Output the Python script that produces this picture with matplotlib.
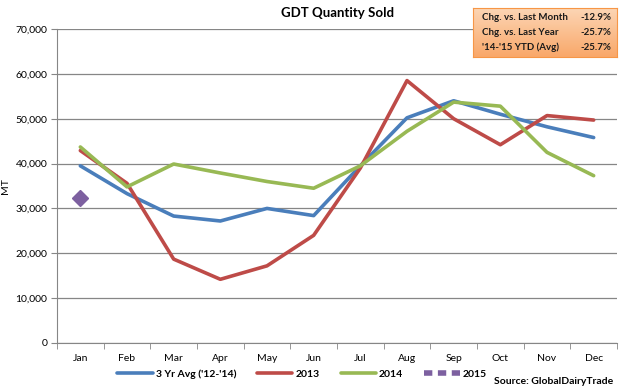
import matplotlib
matplotlib.use("Agg")
import matplotlib.pyplot as plt
from matplotlib.lines import Line2D
from matplotlib.colors import LinearSegmentedColormap
import numpy as np

plt.rcParams['font.family'] = ['Lato', 'DejaVu Sans']

months = ['Jan', 'Feb', 'Mar', 'Apr', 'May', 'Jun', 'Jul', 'Aug', 'Sep', 'Oct', 'Nov', 'Dec']
avg_3yr = [39500, 33300, 28300, 27200, 30000, 28400, 39500, 50200, 54000, 51000, 48200, 45800]
y2013 = [42900, 35600, 18700, 14200, 17200, 24000, 39000, 58500, 50000, 44200, 50700, 49700]
y2014 = [43700, 34800, 39900, 37900, 36000, 34500, 39500, 47200, 53700, 52800, 42500, 37300]
y2015 = [32300]
yticks = [0, 10000, 20000, 30000, 40000, 50000, 60000, 70000]
box_labels = ['Chg. vs. Last Month', 'Chg. vs. Last Year', "'14-'15 YTD (Avg)"]
box_values = ['-12.9%', '-25.7%', '-25.7%']

W, H = 628, 388
fig = plt.figure(figsize=(W/100, H/100), dpi=100)
ax = fig.add_axes([57/W, 1-343/H, (617-57)/W, (343-29)/H])

x = list(range(len(months)))
ax.plot(x, avg_3yr, color='#4a7ebb', lw=2.6, label="3 Yr Avg ('12-'14)", solid_capstyle='round')
ax.plot(x, y2013, color='#be4b48', lw=2.6, label='2013', solid_capstyle='round')
ax.plot(x, y2014, color='#98b954', lw=2.6, label='2014', solid_capstyle='round')
ax.plot(x[:len(y2015)], y2015, color='#7d60a0', lw=2.6, ls=(0, (1.5, 1)), marker='D', ms=8,
        label='2015')

ax.set_xlim(-0.5, 11.5)
ax.set_ylim(0, 70000)
ax.set_yticks(yticks)
ax.set_yticklabels([f'{v:,}' for v in yticks], fontsize=7.5)
ax.set_xticks(x)
ax.set_xticklabels(months, fontsize=7.5)
ax.set_xticks([i - 0.5 for i in range(13)], minor=True)
ax.tick_params(axis='x', which='major', length=0, pad=8)
ax.tick_params(axis='x', which='minor', length=4, color='#868686', direction='out')
ax.tick_params(axis='y', length=4, color='#868686', direction='out', pad=3)
ax.grid(axis='y', color='#868686', lw=0.9)
ax.set_axisbelow(True)
for s in ['top', 'right']:
    ax.spines[s].set_visible(False)
for s in ['left', 'bottom']:
    ax.spines[s].set_color('#868686')
ax.set_ylabel('MT', fontsize=7.5)
ax.yaxis.set_label_coords((10 - 57) / (617 - 57), 0.5)

fig.text(0.5 * (57 + 617) / W, 1 - 13/H, 'GDT Quantity Sold', ha='center', va='center',
         fontsize=9.5, fontweight='bold')

# annotation box
bx = fig.add_axes([473/W, 1-57/H, (617-473)/W, (57-8)/H])
bx.set_xlim(0, 1); bx.set_ylim(0, 1)
grad = np.linspace(0, 1, 50).reshape(-1, 1)
cmap = LinearSegmentedColormap.from_list('o', ['#fcd5b4', '#f9a86a'])
bx.imshow(grad, aspect='auto', cmap=cmap, extent=[0, 1, 0, 1], origin='upper')
for s in bx.spines.values():
    s.set_color('#f79646')
bx.set_xticks([]); bx.set_yticks([])
for i, (lab, val) in enumerate(zip(box_labels, box_values)):
    yy = 0.8 - i * 0.3
    bx.text(0.06, yy, lab, fontsize=7, fontweight='bold', va='center', color='#1a1a1a')
    bx.text(0.96, yy, val, fontsize=7, fontweight='bold', va='center', ha='right', color='#1a1a1a')

handles, labels = ax.get_legend_handles_labels()
handles[3] = Line2D([0], [0], color='#7d60a0', lw=4, ls=(0, (1.5, 1)))
fig.legend(handles, labels, loc='center', bbox_to_anchor=(302/W, 1-374/H), ncol=4,
           frameon=False, handlelength=3.4, columnspacing=2.0, handletextpad=0.3,
           borderpad=0, prop={'weight': 'bold', 'size': 7.5})
fig.text(613/W, 1-381/H, 'Source: GlobalDairyTrade', ha='right', va='center', fontsize=7.5,
         fontweight='bold')

fig.savefig('out.png', dpi=100)
